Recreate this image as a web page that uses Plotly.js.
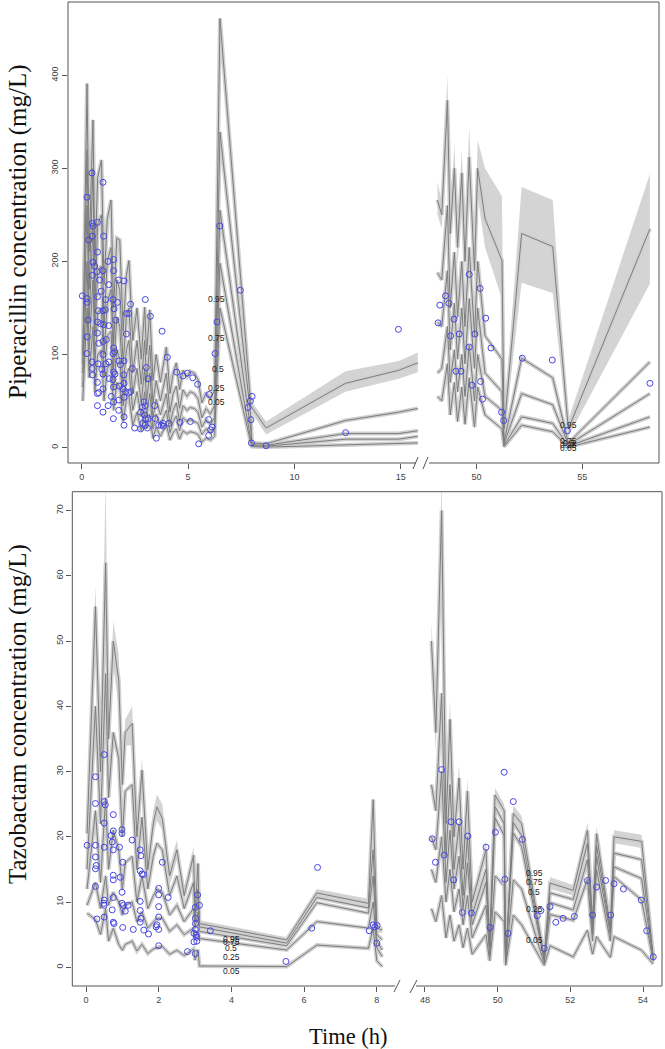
<!DOCTYPE html>
<html><head><meta charset="utf-8">
<script src="https://cdn.plot.ly/plotly-3.0.1.min.js"></script>
<style>body{margin:0;background:#fff}#c{width:665px;height:1049px}</style>
</head><body><div id="c"></div>
<script>
// ---------- Piperacillin, left segment (0-16 h) ----------
const pipL_t   = [0.05,0.25,0.35,0.53,0.62,0.75,0.93,1.05,1.2,1.38,1.5,1.65,1.79,1.95,2.1,2.22,2.4,2.6,2.8,2.96,3.05,3.2,3.35,3.5,3.7,3.98,4.15,4.3,4.45,4.6,4.76,4.95,5.1,5.3,5.47,5.65,5.85,6.05,6.25,6.5,7.95,8.0,8.67,12.4,14.9,15.8];
const pipL_p95 = [100,391,210,352,195,290,309,175,245,266,150,225,223,125,185,201,115,150,95,151,100,148,72,100,70,108,58,80,91,62,83,76,82,80,73,48,59,52,62,461,45,43,21,69,83,91];
const pipL_p75 = [90,320,170,300,150,240,250,130,200,215,110,180,170,90,140,150,80,115,68,115,70,110,48,72,50,80,38,58,66,42,62,55,60,58,52,32,42,36,45,339,33,5,4,29,38,42];
const pipL_p50 = [80,260,135,240,120,190,195,100,155,170,85,140,130,65,105,115,58,85,48,85,50,80,32,52,35,58,25,40,48,28,45,40,43,42,38,22,30,25,32,255,19,3,2.5,15,15,18];
const pipL_p25 = [65,200,105,180,90,145,150,75,120,125,62,105,95,45,78,85,40,60,33,60,35,58,20,36,24,40,16,28,34,18,32,28,30,28,26,14,20,16,22,198,12,2,1.5,9,9,12];
const pipL_p05 = [50,150,75,130,60,100,105,50,85,90,40,70,65,28,52,55,24,38,18,38,20,36,10,22,12,25,8,16,20,9,18,15,17,16,14,6,10,8,12,150,5,1,0.5,3,4,5];
const pipL_band_t  = [7.95,8.0,8.67,12.4,14.9,15.8];
const pipL_band_lo = [40,37,14,60,74,81];
const pipL_band_hi = [50,49,28,82,93,102];
const pipL_obs_t = [0.48,1.00,0.25,0.50,0.74,0.53,0.50,1.03,0.33,0.74,1.24,1.50,0.53,0.61,0.72,1.00,0.50,1.50,0.84,1.74,1.99,1.27,0.03,0.92,0.74,0.25,1.13,1.47,1.68,2.30,2.99,0.26,0.77,1.00,1.11,1.52,2.10,2.21,3.23,0.30,0.74,0.89,1.27,1.03,1.60,0.74,2.10,3.78,0.26,1.00,1.16,0.80,1.50,1.47,1.55,0.25,1.00,0.48,0.77,1.13,1.28,1.75,1.99,1.82,0.50,0.95,1.00,1.50,1.57,1.97,2.38,4.03,3.04,0.52,0.74,1.30,1.47,1.79,3.12,4.47,4.76,4.97,5.22,5.45,5.99,6.36,6.27,6.49,7.46,0.80,1.00,0.74,1.50,1.99,1.94,2.07,2.30,2.21,1.39,1.24,1.50,1.75,1.99,0.74,1.00,1.74,1.49,1.99,2.93,2.99,2.84,2.77,3.43,2.99,3.12,1.99,2.49,2.77,2.99,3.09,2.88,2.96,3.46,3.62,3.74,3.82,4.10,4.62,5.11,3.84,3.51,5.97,6.06,6.13,5.97,5.50,8.01,7.93,7.82,7.96,7.98,8.67,12.41,14.89];
const pipL_obs_c = [295,285,269,241,242,238,227,227,223,210,200,202,199,195,189,190,185,190,180,180,179,175,163,168,162,160,159,159,156,154,159,156,147,147,148,149,144,144,141,137,135,133,131,132,137,123,122,125,119,114,116,112,107,101,103,101,100,92,90,90,92,93,93,89,85,84,79,81,79,78,85,97,86,78,70,74,73,66,74,81,77,80,75,68,57,135,101,238,169,59,63,58,65,69,63,60,60,59,55,45,49,51,54,45,38,40,31,33,49,45,43,38,45,31,31,24,21,20,24,21,26,35,31,24,24,26,26,27,28,23,10,30,19,22,13,4,55,50,43,30,5,2,16,127];

// ---------- Piperacillin, right segment (48-58 h) ----------
const pipR_t   = [48.15,48.35,48.62,48.75,48.95,49.1,49.3,49.45,49.65,49.9,50.05,50.4,51.2,51.3,52.13,53.6,54.34,58.2];
const pipR_p95 = [266,250,373,230,300,215,295,200,312,190,300,246,201,20,230,216,20,235];
const pipR_p95_lo = [250,235,340,210,275,195,265,180,280,170,270,215,160,12,177,166,12,176];
const pipR_p95_hi = [285,265,400,250,325,235,320,220,345,210,330,300,270,30,280,266,30,294];
const pipR_p75 = [188,180,260,150,210,140,200,130,215,120,200,120,95,6,96,75,5,92];
const pipR_p50 = [135,130,190,105,155,95,150,90,160,85,150,80,60,4,58,46,3,58];
const pipR_p25 = [80,85,130,70,105,60,100,55,110,50,100,55,40,2,33,26,1.5,33];
const pipR_p05 = [55,50,90,35,70,28,65,25,75,22,65,35,20,1,24,17,0.5,22];
const pipR_obs_t = [49.65,50.17,48.53,48.26,48.69,48.93,48.18,50.43,48.77,49.18,49.92,49.65,50.68,52.16,49.02,49.26,49.78,50.19,50.28,51.18,51.28,53.58,54.29,58.20];
const pipR_obs_c = [186,171,163,153,155,138,134,139,120,122,122,108,107,96,82,82,67,71,52,38,29,94,18,69];

// ---------- Tazobactam, left segment (0-8 h) ----------
const tazL_t   = [0.03,0.26,0.4,0.54,0.62,0.75,0.9,1.0,1.08,1.27,1.4,1.54,1.7,1.85,1.95,2.1,2.3,2.5,2.7,2.96,3.0,3.08,3.12,5.52,6.35,7.77,7.9,8.0,8.15];
const tazL_p95 = [20.5,55.3,30,62,35,50,44,28,36,37.4,20,30.2,15,22,24.6,22.8,14,18,11,17.2,8,15.9,6.7,4.2,11.4,9.8,25.7,6,5.7];
const tazL_p95_hi = [22,58.4,32,75,37,53,48,30,38,40,22,32,17,24,26.5,25,15.5,19.5,12,18.5,9,17,7.2,4.6,12,10.5,26,6.5,6.2];
const tazL_p95_lo = [19,50,28,55,33,46,40,26,34,34,18,28,13.5,20,22.5,21,12.5,16.5,10,16,7,14.8,6.2,3.8,10.8,9.2,22,5.5,5.2];
const tazL_p75 = [15,40,22,45,26,36,32,20,27,28,15,23,12,17,19,18,11,14,9,13,7,12,6.2,3.7,10.7,9.1,18,5,4.2];
const tazL_p50 = [12,24,13,26,15,21,18,12,16,17,10,14,9,11,12,11.5,8,9.5,7,9,6,8.5,5.5,3.3,9.9,8.3,14,4,2.65];
const tazL_p25 = [9.5,13,9,14,9.5,11.5,10,8,9.5,10,7,8.5,6,7,7.5,7.5,5.5,6.5,5,6,4.5,5.5,4.4,2.65,7.0,6.0,10,3,1.6];
const tazL_p05 = [8.3,7.3,5,9,4,6,3.5,2.6,3.5,4,2.5,3.5,2.1,2.8,3,3.2,2.0,2.6,1.8,2.8,1.1,2.7,0.2,0.1,3.4,2.9,6,1,0.1];
const tazL_obs_t = [0.50,0.26,0.26,0.50,0.53,0.75,0.50,0.75,0.99,0.99,0.69,0.72,0.03,0.26,0.50,0.92,0.75,1.27,1.49,1.51,0.26,1.01,2.10,0.28,0.26,1.49,1.54,1.58,0.75,0.94,0.75,0.26,2.00,2.00,2.26,0.75,0.99,3.07,0.50,0.49,0.50,0.99,1.03,1.16,1.49,2.00,3.01,3.12,0.72,1.08,1.49,2.00,0.75,0.77,1.49,1.51,1.59,1.72,1.30,1.01,0.30,0.50,1.95,2.00,1.93,3.01,3.01,3.01,3.04,3.05,2.97,3.03,2.97,2.79,3.01,2.00,3.42,5.50,6.37,6.21,7.79,7.90,7.95,8.01,8.00];
const tazL_obs_c = [32.6,29.2,25.1,25.4,24.9,23.4,22.1,20.9,21.1,20.5,20.2,19.2,18.7,18.7,18.4,18.4,18.0,19.5,18.0,17.1,16.9,16.1,16.1,15.6,15.1,14.8,14.3,14.2,14.1,13.8,13.4,12.4,12.1,11.1,10.7,10.7,11.5,11.1,10.3,9.8,9.5,9.8,9.5,9.5,10.1,9.3,9.2,9.5,8.8,8.6,8.7,7.7,6.9,6.7,6.9,7.5,5.7,5.1,5.8,6.1,7.4,7.7,6.5,5.8,6.2,7.5,6.7,5.8,4.6,4.0,5.2,5.0,3.9,2.4,2.1,3.3,5.6,0.9,15.3,6.0,5.6,6.5,6.2,6.4,3.7];

// ---------- Tazobactam, right segment (48-54.5 h) ----------
const tazR_t   = [48.18,48.3,48.46,48.58,48.69,48.8,48.94,49.05,49.17,49.3,49.68,49.78,49.93,50.18,50.22,50.43,50.66,51.28,51.44,52.08,52.47,52.61,52.72,53.1,53.2,53.96,54.28];
const tazR_p95 = [50,36,70,22,38,20,29,15,27,10,18,4,26.4,24,1,23.6,22,1.5,12.9,11.8,21,7,20.5,6,20,19.3,1.6];
const tazR_p95_hi = [53,39,75,24,41,22,31,16.5,29,11,19.5,4.5,27.5,25,1.3,24.8,23.2,2,13.8,12.6,22.2,7.6,21.6,6.6,21,20.3,2];
const tazR_p95_lo = [46,33,60,20,35,18,27,13.5,25,9,16.5,3.5,25.3,23,0.7,22.4,20.8,1,12,11,19.8,6.4,19.4,5.4,19,18.3,1.2];
const tazR_p75 = [28,24,42,17,28,15,22,11,20,8,15,3,24.6,22,0.8,22.2,20.2,1.2,11.4,10.4,19,6,18.7,5.5,17.5,16.5,1.3];
const tazR_p50 = [20,18,30,13,21,12,17,9,16,6.5,13,2.5,22.9,20.2,0.7,20.6,18.5,1.0,9.9,8.8,16.5,5,17,5,15.4,13.6,1.1];
const tazR_p25 = [15,13,20,10,15,8.5,12,6.5,11,4.5,9.5,1.8,14,12.5,0.5,13.4,12,0.6,8.1,7.2,13.5,4,15,4,13.9,10.3,0.9];
const tazR_p05 = [9,7,11,4.5,8,4,6.5,3,6,2,5,1,8.5,7,0.3,8,6.5,0.3,3.3,1.6,5.7,2,4.7,1.5,4.7,2.6,0.5];
const tazR_obs_t = [48.46,50.18,50.43,48.72,48.94,48.20,49.18,50.68,49.94,49.68,48.53,48.29,48.79,50.20,49.03,49.28,49.79,50.29,51.09,51.19,51.44,51.60,51.80,52.11,52.47,52.61,52.72,52.97,53.11,53.20,53.46,53.95,54.10,54.28,51.28];
const tazR_obs_c = [30.3,29.9,25.4,22.3,22.3,19.7,20.1,19.6,20.7,18.4,17.2,16.1,13.4,13.5,8.4,8.3,6.1,5.2,7.9,8.7,9.3,6.9,7.5,7.8,13.3,8.0,12.3,13.3,8.0,12.8,12.0,10.3,5.6,1.6,2.9];

// ---------- percentile labels ----------
const pctLabels = ['0.95','0.75','0.5','0.25','0.05'];
const pipL_lab_t = [6.35,6.35,6.4,6.35,6.35], pipL_lab_c = [160,118,84,64,49];
const pipR_lab_t = [54.35,54.35,54.35,54.35,54.35], pipR_lab_c = [24,7,5,3,0];
const tazL_lab_t = [4.0,4.0,4.0,4.0,4.0], tazL_lab_c = [4.4,3.9,2.9,1.6,-0.5];
const tazR_lab_t = [51.0,51.0,51.0,51.0,51.0], tazR_lab_c = [14.5,13.0,11.6,9.0,4.2];

// ---------- drawing ----------
const W = 665, H = 1049;
const px = v => v / W, py = v => 1 - v / H;
const traces = [];
const BAND = 'rgba(205,205,205,0.85)', UNDER = '#cfcfcf', LINE = '#7d7d7d';

function band(xa, ya, t, lo, hi) {
  traces.push({x: t, y: lo, xaxis: xa, yaxis: ya, mode: 'lines', line: {width: 0, color: BAND}, hoverinfo: 'skip', showlegend: false});
  traces.push({x: t, y: hi, xaxis: xa, yaxis: ya, mode: 'lines', line: {width: 0, color: BAND}, fill: 'tonexty', fillcolor: BAND, hoverinfo: 'skip', showlegend: false});
}
function pct(xa, ya, t, arrs) {
  arrs.forEach(a => traces.push({x: t, y: a, xaxis: xa, yaxis: ya, mode: 'lines', line: {width: 4, color: UNDER}, hoverinfo: 'skip', showlegend: false}));
  arrs.forEach(a => traces.push({x: t, y: a, xaxis: xa, yaxis: ya, mode: 'lines', line: {width: 1, color: LINE}, showlegend: false}));
}
function obs(xa, ya, t, c) {
  traces.push({x: t, y: c, xaxis: xa, yaxis: ya, mode: 'markers', marker: {symbol: 'circle-open', size: 6, color: 'rgb(70,70,225)', line: {width: 1}}, showlegend: false});
}

band('x', 'y', pipL_band_t, pipL_band_lo, pipL_band_hi);
pct('x', 'y', pipL_t, [pipL_p95, pipL_p75, pipL_p50, pipL_p25, pipL_p05]);
obs('x', 'y', pipL_obs_t, pipL_obs_c);

band('x2', 'y2', pipR_t, pipR_p95_lo, pipR_p95_hi);
pct('x2', 'y2', pipR_t, [pipR_p95, pipR_p75, pipR_p50, pipR_p25, pipR_p05]);
obs('x2', 'y2', pipR_obs_t, pipR_obs_c);

band('x3', 'y3', tazL_t, tazL_p95_lo, tazL_p95_hi);
pct('x3', 'y3', tazL_t, [tazL_p95, tazL_p75, tazL_p50, tazL_p25, tazL_p05]);
obs('x3', 'y3', tazL_obs_t, tazL_obs_c);

band('x4', 'y4', tazR_t, tazR_p95_lo, tazR_p95_hi);
pct('x4', 'y4', tazR_t, [tazR_p95, tazR_p75, tazR_p50, tazR_p25, tazR_p05]);
obs('x4', 'y4', tazR_obs_t, tazR_obs_c);

const tickFont = {family: 'Liberation Sans, Arial, sans-serif', size: 9, color: '#444'};
function xa(domain, range, tv) {
  return {domain: domain, range: range, tickvals: tv, ticktext: tv.map(String), ticks: 'outside', ticklen: 5, tickcolor: '#555',
          showgrid: false, zeroline: false, showline: false, tickfont: tickFont, fixedrange: true};
}
function ya(domain, range, tv, show) {
  return {domain: domain, range: range, tickvals: show ? tv : [], ticks: show ? 'outside' : '', ticklen: 5, tickcolor: '#555',
          showticklabels: show, tickangle: -90, showgrid: false, zeroline: false, showline: false, tickfont: tickFont, fixedrange: true};
}

const topY = [py(463), py(2)], botY = [py(986), py(491.7)];
const layout = {
  width: W, height: H, margin: {l: 0, r: 0, t: 0, b: 0}, paper_bgcolor: '#fff', plot_bgcolor: 'rgba(0,0,0,0)', showlegend: false,
  xaxis:  xa([px(68), px(420)], [-0.644, 15.905], [0, 5, 10, 15]),
  xaxis2: xa([px(428), px(659)], [47.70, 58.63], [50, 55]),
  xaxis3: xa([px(72.3), px(396)], [-0.377, 8.528], [0, 2, 4, 6, 8]),
  xaxis4: xa([px(418), px(662)], [47.81, 54.52], [48, 50, 52, 54]),
  yaxis:  ya(topY, [-16.6, 478.7], [0, 100, 200, 300, 400], true),
  yaxis2: ya(topY, [-16.6, 478.7], [], false),
  yaxis3: ya(botY, [-2.87, 72.9], [0, 10, 20, 30, 40, 50, 60, 70], true),
  yaxis4: ya(botY, [-2.87, 72.9], [], false),
  annotations: [],
  shapes: []
};
layout.xaxis.anchor = 'y'; layout.xaxis2.anchor = 'y2'; layout.xaxis3.anchor = 'y3'; layout.xaxis4.anchor = 'y4';
layout.yaxis.anchor = 'x'; layout.yaxis2.anchor = 'x2'; layout.yaxis3.anchor = 'x3'; layout.yaxis4.anchor = 'x4';

// percentile labels
function labels(xref, yref, ts, cs) {
  pctLabels.forEach((s, i) => layout.annotations.push({x: ts[i], y: cs[i], xref: xref, yref: yref, text: s, showarrow: false,
    xanchor: 'center', yanchor: 'middle', font: {family: 'Liberation Sans, Arial, sans-serif', size: 8.5, color: '#222'}}));
}
labels('x', 'y', pipL_lab_t, pipL_lab_c);
labels('x2', 'y2', pipR_lab_t, pipR_lab_c);
labels('x3', 'y3', tazL_lab_t, tazL_lab_c);
labels('x4', 'y4', tazR_lab_t, tazR_lab_c);

// axis titles
const serifY = {family: 'Liberation Serif, Times New Roman, serif', size: 25, color: '#111'};
const serifX = {family: 'Liberation Serif, Times New Roman, serif', size: 22.5, color: '#111'};
layout.annotations.push({x: px(18), y: py(232), xref: 'paper', yref: 'paper', xanchor: 'center', yanchor: 'middle', text: 'Piperacillin concentration (mg/L)', textangle: -90, showarrow: false, font: serifY});
layout.annotations.push({x: px(18), y: py(714), xref: 'paper', yref: 'paper', xanchor: 'center', yanchor: 'middle', text: 'Tazobactam concentration (mg/L)', textangle: -90, showarrow: false, font: serifY});
layout.annotations.push({x: px(348), y: py(1036), xref: 'paper', yref: 'paper', xanchor: 'center', yanchor: 'middle', text: 'Time (h)', showarrow: false, font: serifX});

// frames and axis breaks
const FR = {color: '#555', width: 1};
function seg(x0, y0, x1, y1) { layout.shapes.push({type: 'line', xref: 'paper', yref: 'paper', x0: px(x0), y0: py(y0), x1: px(x1), y1: py(y1), line: FR}); }
// top panel
seg(68, 2, 659, 2); seg(68, 2, 68, 463); seg(659, 2, 659, 463); seg(68, 463, 416, 463); seg(429, 463, 659, 463);
seg(413, 469, 418, 457); seg(423, 469, 428, 457);
// bottom panel
seg(72.3, 491.7, 662, 491.7); seg(72.3, 491.7, 72.3, 986); seg(662, 491.7, 662, 986); seg(72.3, 986, 395, 986); seg(416, 986, 662, 986);
seg(394, 992, 400, 980); seg(410, 993, 417, 980);

Plotly.newPlot('c', traces, layout, {staticPlot: true, displayModeBar: false});
</script></body></html>
